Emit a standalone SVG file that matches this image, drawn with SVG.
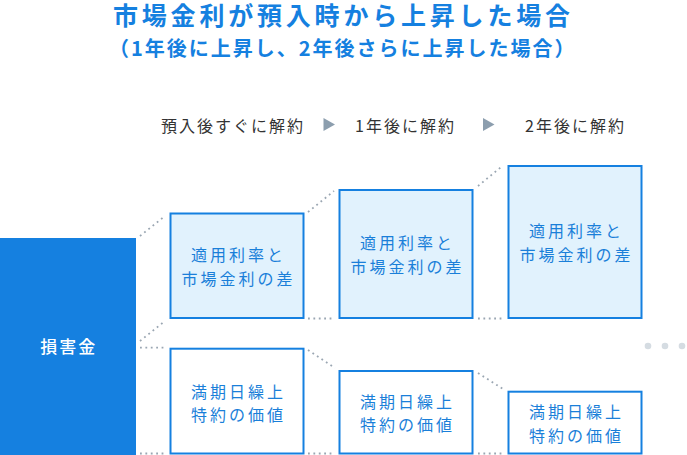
<svg xmlns="http://www.w3.org/2000/svg" width="687" height="455" viewBox="0 0 687 455">
<style>
text{font-family:'Noto Sans CJK JP','Noto Sans CJK SC',sans-serif;}
.title{font-size:25px;font-weight:bold;fill:#1580e0;letter-spacing:3.8px;}
.sub{font-size:20px;font-weight:bold;fill:#1580e0;letter-spacing:2px;}
.hdr{font-size:16px;fill:#333333;letter-spacing:2px;}
.arrow{fill:#8c9eae;}
.box{stroke:#1580e0;stroke-width:2;}
.rate{fill:#e1f2fd;}
.val{fill:#ffffff;}
.btxt{font-size:16px;fill:#1a7fd9;letter-spacing:3px;text-anchor:middle;}
.dot{stroke:#9aa6b2;stroke-width:1.8;stroke-dasharray:1.8 3.6;fill:none;}
.ell{fill:#d5dce2;}
</style>
<text class="title" x="113" y="24.5">市場金利が預入時から上昇した場合</text>
<text class="sub" x="342.7" y="56" text-anchor="middle">（1年後に上昇し、2年後さらに上昇した場合）</text>

<g id="header">
<text class="hdr" x="161" y="132.2">預入後すぐに解約</text>
<polygon class="arrow" points="323.5,118 335,124.5 323.5,131"/>
<text class="hdr" x="355" y="132.2">1年後に解約</text>
<polygon class="arrow" points="483,118 494.5,124.5 483,131"/>
<text class="hdr" x="525" y="132.2">2年後に解約</text>
</g>

<g id="connectors">
<line class="dot" x1="140" y1="236" x2="165" y2="216"/>
<line class="dot" x1="140" y1="341" x2="165" y2="321"/>
<line class="dot" x1="140" y1="347.7" x2="166" y2="347.7"/>
<line class="dot" x1="140" y1="453.5" x2="166" y2="453.5"/>
<line class="dot" x1="308" y1="212" x2="334" y2="191"/>
<line class="dot" x1="308" y1="318.5" x2="335" y2="318.5"/>
<line class="dot" x1="308" y1="350" x2="335" y2="368"/>
<line class="dot" x1="308" y1="453.5" x2="335" y2="453.5"/>
<line class="dot" x1="478" y1="186" x2="503" y2="165.5"/>
<line class="dot" x1="478" y1="318.5" x2="504" y2="318.5"/>
<line class="dot" x1="478" y1="373" x2="503" y2="389"/>
<line class="dot" x1="478" y1="453.5" x2="504" y2="453.5"/>
</g>

<g id="loss">
<rect x="0" y="238" width="136" height="217" fill="#1580e0"/>
<text x="68.8" y="353.2" text-anchor="middle" style="font-size:17px;font-weight:500;fill:#ffffff;letter-spacing:2px;">損害金</text>
</g>

<g id="rate1">
<rect class="box rate" x="170.5" y="213.5" width="133" height="104.5"/>
<text class="btxt" x="238.5" y="260.7">適用利率と</text>
<text class="btxt" x="238.5" y="284.7">市場金利の差</text>
</g>
<g id="rate2">
<rect class="box rate" x="339.5" y="190" width="133" height="128"/>
<text class="btxt" x="407.5" y="249">適用利率と</text>
<text class="btxt" x="407.5" y="273">市場金利の差</text>
</g>
<g id="rate3">
<rect class="box rate" x="508.5" y="166" width="133" height="152"/>
<text class="btxt" x="576.5" y="237">適用利率と</text>
<text class="btxt" x="576.5" y="261">市場金利の差</text>
</g>

<g id="value1">
<rect class="box val" x="170.5" y="348.7" width="133" height="104.8"/>
<text class="btxt" x="238.5" y="397.5">満期日繰上</text>
<text class="btxt" x="238.5" y="421">特約の価値</text>
</g>
<g id="value2">
<rect class="box val" x="339.5" y="371" width="133" height="82.5"/>
<text class="btxt" x="407.5" y="407.5">満期日繰上</text>
<text class="btxt" x="407.5" y="431">特約の価値</text>
</g>
<g id="value3">
<rect class="box val" x="508.5" y="391.7" width="133" height="61.8"/>
<text class="btxt" x="576.5" y="417.5">満期日繰上</text>
<text class="btxt" x="576.5" y="441.5">特約の価値</text>
</g>

<g id="more">
<circle class="ell" cx="648" cy="346" r="3.3"/>
<circle class="ell" cx="665" cy="346" r="3.3"/>
<circle class="ell" cx="682" cy="346" r="3.3"/>
</g>
</svg>
